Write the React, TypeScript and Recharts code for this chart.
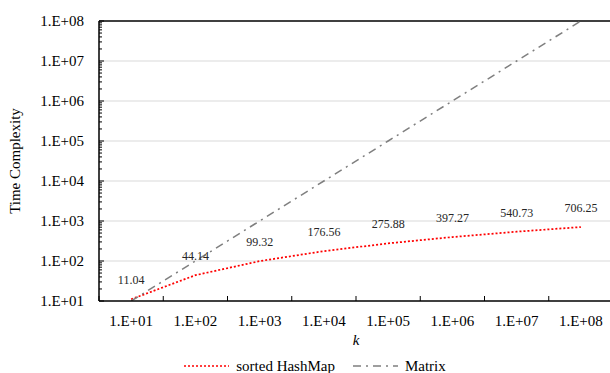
import React from 'react';
import { LineChart, Line, XAxis, YAxis, ReferenceLine, LabelList, Legend } from 'recharts';

// ---- data ----
const categories = ['1.E+01', '1.E+02', '1.E+03', '1.E+04', '1.E+05', '1.E+06', '1.E+07', '1.E+08'];
const hashMapValues = [11.04, 44.14, 99.32, 176.56, 275.88, 397.27, 540.73, 706.25];
const matrixValues = [1e1, 1e2, 1e3, 1e4, 1e5, 1e6, 1e7, 1e8];
const yMajorTicks = [1e1, 1e2, 1e3, 1e4, 1e5, 1e6, 1e7, 1e8];
const yMajorLabels = ['1.E+01', '1.E+02', '1.E+03', '1.E+04', '1.E+05', '1.E+06', '1.E+07', '1.E+08'];
const yMinorMultipliers = [2, 3, 4, 5, 6, 7, 8, 9];
const gridValues = [1e2, 1e3, 1e4, 1e5, 1e6, 1e7];

const seriesNames = ['sorted HashMap', 'Matrix'];
const seriesColors = ['#ff0000', '#7f7f7f'];
const seriesDash = ['2 2', '8 5 2 5'];

const data = categories.map((k, i) => ({ k, hashMap: hashMapValues[i], matrix: matrixValues[i] }));

const yAllTicks: number[] = [];
yMajorTicks.forEach((t, i) => {
  yAllTicks.push(t);
  if (i < yMajorTicks.length - 1) yMinorMultipliers.forEach((m) => yAllTicks.push(t * m));
});
yAllTicks.sort((a, b) => a - b);

// ---- layout ----
const CHART_W = 614;
const CHART_H = 373;
const Y_W = 99;
const M_RIGHT = 1;
const BAND = (CHART_W - Y_W - M_RIGHT) / categories.length;
const X_TICK_MARGIN = 14;
const Y_TICK_MARGIN = 15;
const FONT = "'Liberation Serif', 'Times New Roman', serif";

const XTick = (props: any) => {
  const { x, y, payload } = props;
  const axisY = y - X_TICK_MARGIN;
  return (
    <g>
      <line x1={x - BAND / 2} x2={x - BAND / 2} y1={axisY} y2={axisY - 5} stroke="#000" strokeWidth={1} />
      <text x={x} y={y} dy="0.71em" textAnchor="middle" fontSize={15} fill="#000" style={{ fontFamily: FONT }}>
        {payload.value}
      </text>
    </g>
  );
};

const YTick = (props: any) => {
  const { x, y, payload } = props;
  const v = payload.value;
  const idx = yMajorTicks.findIndex((t) => Math.abs(t - v) / t < 1e-9);
  const axisX = x + Y_TICK_MARGIN;
  return (
    <g>
      <line x1={axisX} x2={axisX + (idx >= 0 ? 5 : 3)} y1={y} y2={y} stroke="#000" strokeWidth={1} />
      {idx >= 0 && (
        <text x={x} y={y} dy="0.33em" textAnchor="end" fontSize={15} fill="#000" style={{ fontFamily: FONT }}>
          {yMajorLabels[idx]}
        </text>
      )}
    </g>
  );
};

const LegendContent = () => (
  <div
    style={{
      display: 'flex',
      justifyContent: 'center',
      alignItems: 'center',
      fontSize: 15,
      lineHeight: '20px',
      paddingLeft: 16,
      color: '#000',
      fontFamily: FONT,
    }}
  >
    {seriesNames.map((name, i) => (
      <div key={name} style={{ display: 'flex', alignItems: 'center', marginRight: i === 0 ? 18 : 0 }}>
        <svg width={45} height={10} style={{ marginRight: 7 }}>
          <line x1={0} x2={45} y1={5} y2={5} stroke={seriesColors[i]} strokeWidth={1.5} strokeDasharray={seriesDash[i]} />
        </svg>
        <span>{name}</span>
      </div>
    ))}
  </div>
);

export default function App() {
  return (
    <div
      style={{
        position: 'absolute',
        left: 0,
        top: 0,
        width: 610,
        height: 373,
        overflow: 'hidden',
        background: '#fff',
        fontFamily: FONT,
      }}
    >
      <LineChart
        width={CHART_W}
        height={CHART_H}
        data={data}
        margin={{ top: 21, right: M_RIGHT, left: 0, bottom: 0 }}
        style={{ fontFamily: FONT }}
      >
        <XAxis
          dataKey="k"
          scale="band"
          interval={0}
          height={72}
          tickSize={0}
          tickMargin={X_TICK_MARGIN}
          tickLine={false}
          tick={<XTick />}
          axisLine={{ stroke: '#000', strokeWidth: 1.5 }}
          label={{
            value: 'k',
            position: 'insideBottom',
            offset: 28,
            fontSize: 15,
            fontStyle: 'italic',
            fill: '#000',
            style: { fontFamily: FONT },
          }}
        />
        <YAxis
          scale="log"
          domain={[1e1, 1e8]}
          allowDataOverflow
          ticks={yAllTicks}
          interval={0}
          width={Y_W}
          tickSize={0}
          tickMargin={Y_TICK_MARGIN}
          tickLine={false}
          tick={<YTick />}
          axisLine={{ stroke: '#000', strokeWidth: 1.5 }}
          label={{
            value: 'Time Complexity',
            angle: -90,
            position: 'center',
            dx: -35,
            fontSize: 15,
            fill: '#000',
            style: { fontFamily: FONT },
          }}
        />
        {gridValues.map((v) => (
          <ReferenceLine key={v} y={v} stroke="#d9d9d9" strokeWidth={1} />
        ))}
        <ReferenceLine y={1e8} stroke="#404040" strokeWidth={2} />
        <Line
          type="linear"
          dataKey="hashMap"
          name={seriesNames[0]}
          stroke={seriesColors[0]}
          strokeWidth={1.75}
          strokeDasharray={seriesDash[0]}
          dot={false}
          activeDot={false}
          isAnimationActive={false}
        >
          <LabelList
            dataKey="hashMap"
            position="top"
            offset={15}
            fontSize={12}
            fill="#262626"
            style={{ fontFamily: FONT }}
          />
        </Line>
        <Line
          type="linear"
          dataKey="matrix"
          name={seriesNames[1]}
          stroke={seriesColors[1]}
          strokeWidth={1.5}
          strokeDasharray={seriesDash[1]}
          dot={false}
          activeDot={false}
          isAnimationActive={false}
        />
        <Legend
          layout="horizontal"
          verticalAlign="middle"
          align="center"
          content={<LegendContent />}
          wrapperStyle={{ top: 356, left: 0, width: CHART_W, height: 20 }}
        />
      </LineChart>
    </div>
  );
}
